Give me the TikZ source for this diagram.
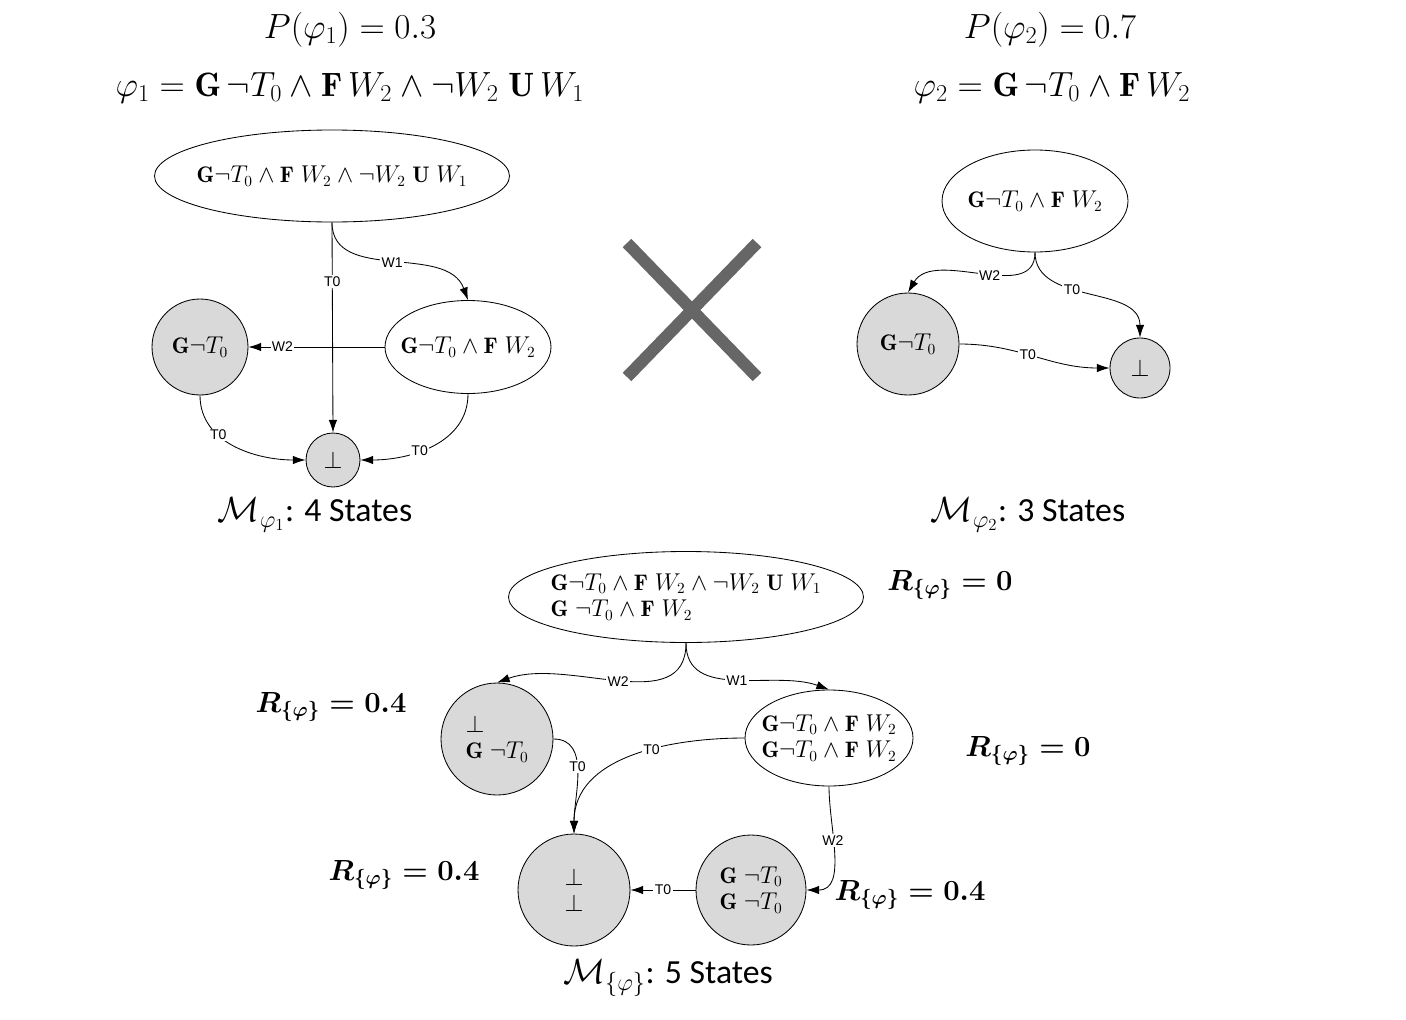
\documentclass[tikz,border=0pt]{standalone}
\usepackage{amsmath,amssymb}
\usepackage{fontspec}
\newfontfamily\txtfont{Carlito}
\newfontfamily\labfont{Liberation Sans}
\usetikzlibrary{shapes.geometric,arrows.meta}
\newcommand{\Gm}{\mathbf{G}}
\newcommand{\Fm}{\mathbf{F}}
\newcommand{\Um}{\mathbf{U}}
\begin{document}
\begin{tikzpicture}[x=0.025cm,y=-0.025cm,
  state/.style={ellipse, draw, semithick, inner xsep=-7pt, inner ysep=0pt, font=\fontsize{16}{19}\selectfont},
  acc/.style={circle, draw, semithick, fill=gray!30, inner sep=0pt, font=\fontsize{16}{19}\selectfont},
  edge/.style={semithick, -{Latex[length=9pt,width=6pt]}},
  lbl/.style={fill=white, inner sep=1pt, font=\labfont\fontsize{10}{12}\selectfont},
  head/.style={font=\fontsize{24}{28}\selectfont},
  rew/.style={font=\fontsize{20}{24}\selectfont}]
\useasboundingbox (0,0) rectangle (1406,1019);
% titles
\node[head](p1) at (350,30) {$P(\varphi_1) = 0.3$};
\node[head](f1) at (350,88) {$\varphi_1 = \Gm\,\neg T_0 \wedge \Fm\, W_2 \wedge \neg W_2\;\Um\, W_1$};
\node[head](p2) at (1050,30) {$P(\varphi_2) = 0.7$};
\node[head](f2) at (1052,88) {$\varphi_2 = \Gm\,\neg T_0 \wedge \Fm\, W_2$};
% automaton of phi 1
\node[state, minimum width=304*0.025cm, minimum height=92*0.025cm](a1) at (332,176) {$\Gm\neg T_0 \wedge \Fm\; W_2 \wedge \neg W_2\; \Um\; W_1$};
\node[acc, minimum size=96*0.025cm](b1) at (200,347) {$\Gm\neg T_0$};
\node[state, minimum width=166*0.025cm, minimum height=93*0.025cm](c1) at (468,347) {$\Gm\neg T_0 \wedge \Fm\; W_2$};
\node[acc, minimum size=54*0.025cm](d1) at (333,460) {$\bot$};
\draw[edge] (a1.south) -- node[lbl, pos=0.28]{T0} (d1.north);
\draw[edge] (a1.south) to[out=-90, in=110] node[lbl, pos=0.5]{W1} (c1.north);
\draw[edge] (c1.west) -- node[lbl, pos=0.75]{W2} (b1.east);
\draw[edge] (b1.south) to[out=-90, in=180] node[lbl, pos=0.35]{T0} (d1.west);
\draw[edge] (c1.south) to[out=-90, in=0] node[lbl, pos=0.6]{T0} (d1.east);
\node[head](m1) at (315,515) {$\mathcal{M}_{\varphi_1}$\txtfont: 4 States};
% cross
\draw[line width=12*0.025cm, gray!80!black] (627,243) -- (757,377) (757,243) -- (627,377);
% automaton of phi 2
\node[state, minimum width=186*0.025cm, minimum height=102*0.025cm](a2) at (1035,201) {$\Gm\neg T_0 \wedge \Fm\; W_2$};
\node[acc, minimum size=102*0.025cm](b2) at (908,344) {$\Gm\neg T_0$};
\node[acc, minimum size=60*0.025cm](d2) at (1140,368) {$\bot$};
\draw[edge] (a2.south) to[out=-90, in=60] node[lbl, pos=0.45]{W2} (b2.north);
\draw[edge] (a2.south) to[out=-90, in=90] node[lbl, pos=0.4]{T0} (d2.north);
\draw[edge] (b2.east) to[out=0, in=180] node[lbl, pos=0.45]{T0} (d2.west);
\node[head](m2) at (1028,515) {$\mathcal{M}_{\varphi_2}$\txtfont: 3 States};
% product automaton
\node[state, minimum width=339*0.025cm, minimum height=91*0.025cm, align=left](a3) at (686,597) {$\Gm\neg T_0 \wedge \Fm\; W_2 \wedge \neg W_2\; \Um\; W_1$\\$\Gm\;\neg T_0 \wedge \Fm\; W_2$};
\node[acc, minimum size=112*0.025cm, align=left](b3) at (497,739) {$\bot$\\$\Gm\;\neg T_0$};
\node[state, minimum width=168*0.025cm, minimum height=96*0.025cm, align=left](c3) at (829,738) {$\Gm\neg T_0 \wedge \Fm\; W_2$\\$\Gm\neg T_0 \wedge \Fm\; W_2$};
\node[acc, minimum size=112*0.025cm, align=center](d3) at (574,890) {$\bot$\\$\bot$};
\node[acc, minimum size=110*0.025cm, align=left](e3) at (751,890) {$\Gm\;\neg T_0$\\$\Gm\;\neg T_0$};
\draw[edge] (a3.south) to[out=-90, in=20] node[lbl, pos=0.5]{W2} (b3.north);
\draw[edge] (a3.south) to[out=-90, in=160] node[lbl, pos=0.5]{W1} (c3.north);
\draw[edge] (b3.east) to[out=0, in=90] node[lbl, pos=0.45]{T0} (d3.north);
\draw[edge] (c3.west) to[out=180, in=90] node[lbl, pos=0.4]{T0} (d3.north);
\draw[edge] (c3.south) to[out=-90, in=0] node[lbl, pos=0.4]{W2} (e3.east);
\draw[edge] (e3.west) -- node[lbl, pos=0.5]{T0} (d3.east);
\node[head](m3) at (668,978) {$\mathcal{M}_{\{\varphi\}}$\txtfont: 5 States};
% rewards
\node[rew](r1) at (950,585) {$\boldsymbol{R_{\{\varphi\}} = 0}$};
\node[rew](r2) at (331,707) {$\boldsymbol{R_{\{\varphi\}} = 0.4}$};
\node[rew](r3) at (1028,751) {$\boldsymbol{R_{\{\varphi\}} = 0}$};
\node[rew](r4) at (404,875) {$\boldsymbol{R_{\{\varphi\}} = 0.4}$};
\node[rew](r5) at (910,895) {$\boldsymbol{R_{\{\varphi\}} = 0.4}$};
\end{tikzpicture}
\end{document}
